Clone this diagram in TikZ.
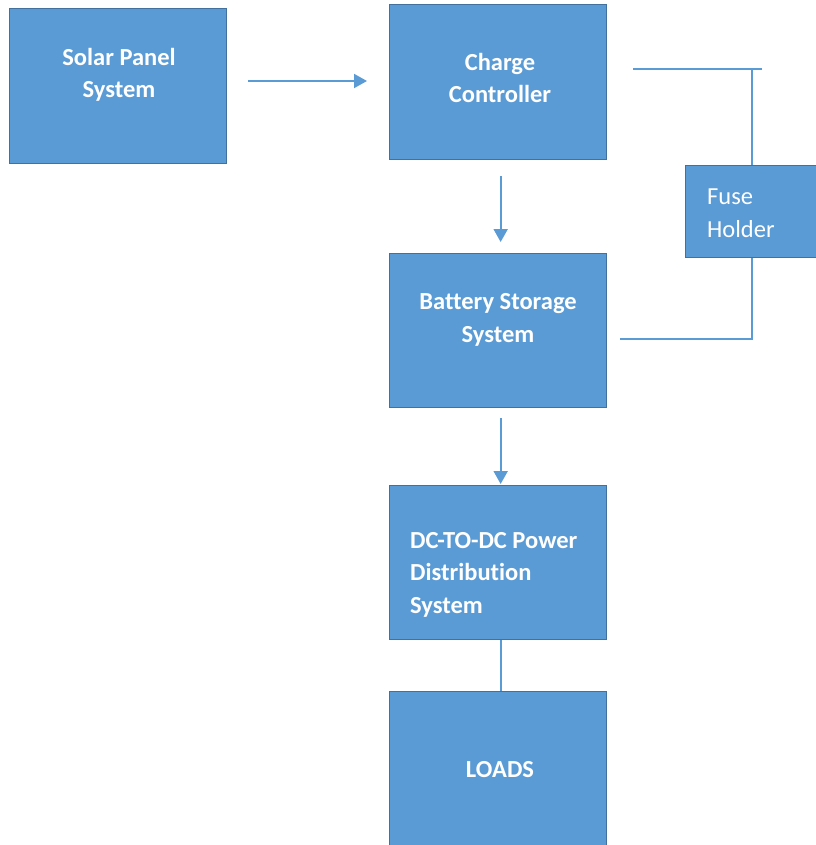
\documentclass[tikz,border=0pt]{standalone}
\usepackage{fontspec}
\setmainfont{Carlito}[Ligatures={NoCommon}]
\usetikzlibrary{arrows.meta}
\definecolor{boxfill}{HTML}{5B9BD5}
\definecolor{boxline}{HTML}{41719C}
\tikzset{
  blk/.style={draw=boxline, fill=boxfill, line width=1.3pt, rectangle, inner sep=0pt, anchor=north west},
  lbl/.style={text=white, font=\fontsize{24.5}{32.5}\selectfont\bfseries, align=center, inner sep=0pt},
  lbll/.style={text=white, font=\fontsize{24.5}{32.5}\selectfont\bfseries, align=left, inner sep=0pt, anchor=north west},
  lblr/.style={text=white, font=\fontsize{24.5}{32.5}\selectfont, align=left, inner sep=0pt, anchor=north west},
  conn/.style={draw=boxfill, line width=2pt},
  arr/.style={conn, -{Triangle[length=13pt,width=14pt]}},
}
\begin{document}
\begin{tikzpicture}[x=1pt,y=-1pt]
\useasboundingbox (0,0) rectangle (815,845);
% boxes
\node[blk, minimum width=217pt, minimum height=155pt] (solar) at (9,8) {};
\node[blk, minimum width=217pt, minimum height=155pt] (charge) at (389,4) {};
\node[blk, minimum width=217pt, minimum height=154pt] (battery) at (389,253) {};
\node[blk, minimum width=217pt, minimum height=154pt] (dcdc) at (389,485) {};
\node[blk, minimum width=217pt, minimum height=158pt] (loads) at (389,691) {};
\node[blk, minimum width=134pt, minimum height=92pt] (fuse) at (685,165) {};
% texts
\node[lbl] (solar-t) at (119,75) {Solar Panel\\System};
\node[lbl] (charge-t) at (500,78) {Charge\\Controller};
\node[lbl] (battery-t) at (498,320) {Battery Storage\\System};
\node[lbll] (dcdc-t) at (410,532) {DC-TO-DC Power\\Distribution\\System};
\node[lbl] (loads-t) at (500,770) {LOADS};
\node[lblr] (fuse-t) at (707,189) {Fuse\\Holder};
% connectors
\draw[arr, shorten <=21pt, shorten >=22pt] (solar.east |- 0,81) -- (charge.west |- 0,81);
\draw[arr, shorten <=16pt, shorten >=11pt] ([xshift=2.5pt]charge.south) -- ([xshift=2.5pt]battery.north);
\draw[arr, shorten <=10pt, shorten >=1pt] ([xshift=2.5pt]battery.south) -- ([xshift=2.5pt]dcdc.north);
\draw[conn] ([xshift=2.5pt]dcdc.south) -- ([xshift=2.5pt]loads.north);
% fuse wiring
\coordinate (c1) at (633,69);
\coordinate (c2) at (762,69);
\coordinate (b1) at (620,339);
\coordinate (cor) at (752,69);
\coordinate (bor) at (752,339);
\draw[conn, line width=1.5pt] (c1) -- (c2);
\draw[conn, line width=1.5pt] (cor) -- (cor |- fuse.north);
\draw[conn, line width=1.5pt] (cor |- fuse.south) -- (bor) -- (b1);
\end{tikzpicture}
\end{document}
